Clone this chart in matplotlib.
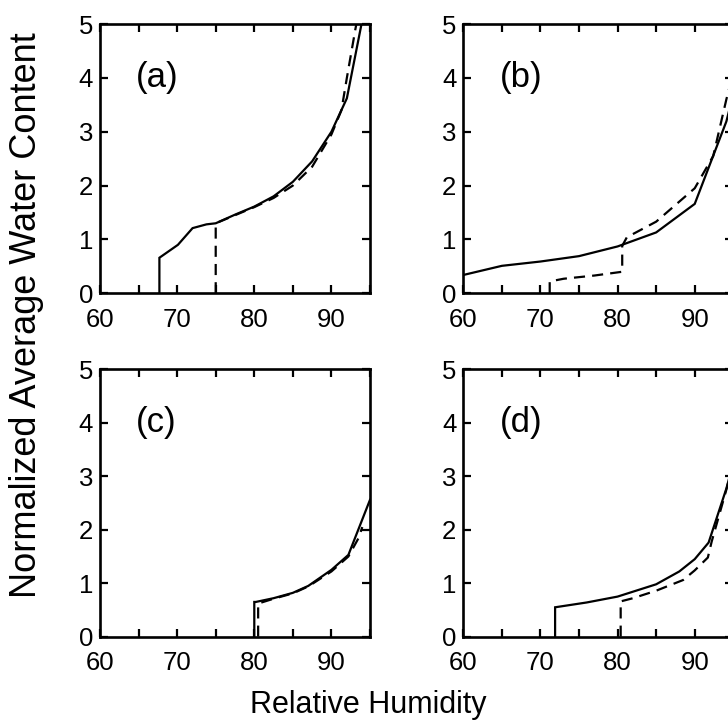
import matplotlib
matplotlib.use("Agg")
import matplotlib.pyplot as plt

plt.rcParams['font.family'] = ['Liberation Sans', 'DejaVu Sans']

# ---- data ----
panel_labels = ["(a)", "(b)", "(c)", "(d)"]

a_solid_x = [67.7, 67.7, 70.1, 72.0, 73.8, 75.0, 77.5, 80.0, 82.5, 85.0, 87.5, 90.0, 92.0, 93.9, 94.3]
a_solid_y = [0.0, 0.66, 0.90, 1.21, 1.28, 1.30, 1.46, 1.61, 1.80, 2.07, 2.45, 3.00, 3.62, 5.00, 5.3]
a_dash_x = [75.0, 75.0, 77.5, 80.0, 82.5, 85.0, 87.5, 90.0, 91.3, 92.0, 93.1, 93.3]
a_dash_y = [0.0, 1.30, 1.45, 1.60, 1.77, 2.00, 2.35, 2.95, 3.40, 4.00, 4.90, 5.05]

b_solid_x = [60.0, 65.0, 70.0, 75.0, 80.0, 85.0, 90.0, 94.1, 95.0]
b_solid_y = [0.34, 0.51, 0.59, 0.69, 0.87, 1.13, 1.66, 3.19, 3.70]
b_dash_x = [71.2, 71.2, 73.0, 77.0, 80.6, 80.6, 81.2, 85.0, 90.0, 92.4, 94.1, 95.0]
b_dash_y = [0.0, 0.22, 0.27, 0.33, 0.40, 0.88, 1.04, 1.33, 1.95, 2.55, 3.60, 4.10]

c_solid_x = [80.0, 80.0, 80.2, 82.5, 85.0, 87.0, 90.0, 92.2, 95.0]
c_solid_y = [0.0, 0.65, 0.65, 0.72, 0.82, 0.95, 1.25, 1.53, 2.56]
c_dash_x = [80.5, 80.5, 82.5, 85.0, 87.0, 90.0, 92.2, 93.5, 94.0]
c_dash_y = [0.0, 0.62, 0.71, 0.81, 0.94, 1.22, 1.50, 1.84, 2.05]

d_solid_x = [71.9, 71.9, 76.0, 80.0, 85.0, 88.0, 90.0, 91.8, 94.1, 95.0]
d_solid_y = [0.0, 0.55, 0.64, 0.75, 0.98, 1.22, 1.45, 1.76, 2.77, 3.25]
d_dash_x = [80.4, 80.4, 82.0, 85.0, 88.5, 90.0, 91.7, 92.2, 94.2, 95.0]
d_dash_y = [0.0, 0.66, 0.72, 0.86, 1.06, 1.24, 1.48, 1.78, 2.80, 3.30]

series = [
    (a_solid_x, a_solid_y, a_dash_x, a_dash_y),
    (b_solid_x, b_solid_y, b_dash_x, b_dash_y),
    (c_solid_x, c_solid_y, c_dash_x, c_dash_y),
    (d_solid_x, d_solid_y, d_dash_x, d_dash_y),
]

x_major = [60, 70, 80, 90]
x_minor = [65, 75, 85, 95]
y_ticks = [0, 1, 2, 3, 4, 5]

# ---- layout ----
W, H = 728, 722
fig = plt.figure(figsize=(W / 100, H / 100), dpi=100)

boxes = [
    (100, 24, 270, 269.3),
    (463.3, 24, 270, 269.3),
    (100, 369.3, 270, 267.4),
    (463.3, 369.3, 270, 267.4),
]

for (l, t, w, h), lab, (sx, sy, dx, dy) in zip(boxes, panel_labels, series):
    ax = fig.add_axes([l / W, 1 - (t + h) / H, w / W, h / H])
    ax.plot(sx, sy, color='black', lw=1.6, solid_joinstyle='miter')
    ax.plot(dx, dy, color='black', lw=1.6, dashes=(5, 3.2))
    ax.set_xlim(60, 95)
    ax.set_ylim(0, 5)
    ax.set_xticks(x_major)
    ax.set_xticks(x_minor, minor=True)
    ax.set_yticks(y_ticks)
    ax.tick_params(which='both', direction='in', top=True, right=True,
                   length=6, width=1.6, labelsize=18.5)
    ax.tick_params(axis='x', which='both', pad=10.5)
    ax.tick_params(axis='y', which='both', pad=5)
    for sp in ax.spines.values():
        sp.set_linewidth(1.9)
    ax.text(64.7, 4.0, lab, fontsize=25, ha='left', va='center')

fig.text(27 / W, 1 - 315 / H, "Normalized Average Water Content",
         rotation=90, ha='center', va='center', fontsize=26)
fig.text(368 / W, 1 - 705 / H, "Relative Humidity",
         ha='center', va='center', fontsize=22)

fig.savefig("out.png", dpi=100)
